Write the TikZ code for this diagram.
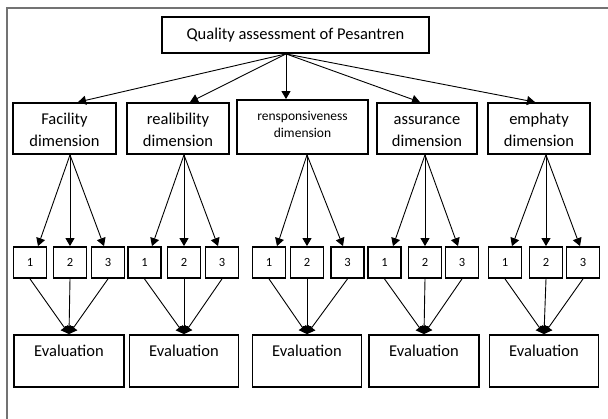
\documentclass[tikz,border=0pt]{standalone}
\usepackage{fontspec}
\setmainfont{Carlito}
\usetikzlibrary{arrows.meta}

\begin{document}
\begin{tikzpicture}[x=1pt,y=-1pt,
    topbox/.style={draw,line width=1.8pt,font=\fontsize{16.5}{22}\selectfont,minimum width=267pt,minimum height=36pt,inner sep=0pt},
    dimbox/.style={draw,line width=1.8pt,align=center,font=\fontsize{16.5}{22}\selectfont,inner xsep=0pt,inner ysep=0pt,text height=44pt,text depth=7pt},
    respbox/.style={draw,line width=1.8pt,align=center,font=\fontsize{13.5}{17}\selectfont,inner xsep=0pt,inner ysep=0pt,text height=38pt,text depth=16pt},
    itembox/.style={draw,line width=1.8pt,font=\fontsize{12.5}{14}\selectfont,minimum width=33pt,minimum height=31pt,inner sep=0pt},
    evalbox/.style={draw,line width=1.8pt,font=\fontsize{16.5}{22}\selectfont,minimum width=109pt,inner xsep=0pt,inner ysep=0pt,text height=22pt,text depth=30pt},
    arr/.style={-{Triangle[length=8pt,width=9pt]},line width=0.9pt}]
   \useasboundingbox (0,0) rectangle (608,419);
   \draw[black!55,line width=1.3pt] (7,419) -- (7,8) -- (608,8);
   % main box and dimensions
   \node[topbox] (quality) at (295.5,35) {Quality assessment of Pesantren};
   \node[dimbox,minimum width=103pt] (facility) at (64.5,128.5) {Facility\\dimension};
   \node[dimbox,minimum width=102pt] (reliab)   at (178,128.5)  {realibility\\dimension};
   \node[respbox,minimum width=131pt] (respon)  at (302.5,127)  {rensponsiveness\\dimension};
   \node[dimbox,minimum width=100pt] (assur)    at (427,128.5)  {assurance\\dimension};
   \node[dimbox,minimum width=102pt] (empat)    at (539,128.5)  {emphaty\\dimension};
   \coordinate (qs) at ([xshift=-9.5pt]quality.south);
   \draw[arr] (qs) -- ([xshift=13.5pt]facility.north);
   \draw[arr] (qs) -- ([xshift=12pt]reliab.north);
   \draw[arr] (qs) -- ([xshift=-16.5pt]respon.north);
   \draw[arr] (qs) -- ([xshift=-7pt]assur.north);
   \draw[arr] (qs) -- ([xshift=-4pt]empat.north);
   % indicators
   \node[itembox] (fac1) at (30,262.5)  {1};
   \node[itembox] (fac2) at (70,262.5)  {2};
   \node[itembox] (fac3) at (108,262.5) {3};
   \node[itembox] (rel1) at (144.5,262.5) {1};
   \node[itembox] (rel2) at (184,262.5)   {2};
   \node[itembox] (rel3) at (222,262.5)   {3};
   \node[itembox] (res1) at (269,262.5)   {1};
   \node[itembox] (res2) at (307,262.5)   {2};
   \node[itembox] (res3) at (347.5,262.5) {3};
   \node[itembox] (ass1) at (384.5,262.5) {1};
   \node[itembox] (ass2) at (425,262.5)   {2};
   \node[itembox] (ass3) at (462,262.5)   {3};
   \node[itembox] (emp1) at (505,262.5)   {1};
   \node[itembox] (emp2) at (546,262.5)   {2};
   \node[itembox] (emp3) at (583,262.5)   {3};
   \coordinate (fo) at ([xshift=5.5pt]facility.south);
   \coordinate (ro) at ([xshift=6pt]reliab.south);
   \coordinate (so) at ([xshift=4.5pt]respon.south);
   \coordinate (ao) at ([xshift=-2pt]assur.south);
   \coordinate (eo) at ([xshift=7pt]empat.south);
   \draw[arr] (fo) -- ([xshift=8pt]fac1.north);
   \draw[arr] (fo) -- (fac2.north);
   \draw[arr] (fo) -- ([xshift=-4pt]fac3.north);
   \draw[arr] (ro) -- ([xshift=7.5pt]rel1.north);
   \draw[arr] (ro) -- (rel2.north);
   \draw[arr] (ro) -- ([xshift=-4pt]rel3.north);
   \draw[arr] (so) -- ([xshift=8pt]res1.north);
   \draw[arr] (so) -- (res2.north);
   \draw[arr] (so) -- ([xshift=-4.5pt]res3.north);
   \draw[arr] (ao) -- ([xshift=8.5pt]ass1.north);
   \draw[arr] (ao) -- (ass2.north);
   \draw[arr] (ao) -- ([xshift=-4pt]ass3.north);
   \draw[arr] (eo) -- ([xshift=7pt]emp1.north);
   \draw[arr] (eo) -- (emp2.north);
   \draw[arr] (eo) -- ([xshift=-3pt]emp3.north);
   % evaluations
   \node[evalbox,minimum width=110pt] (facev) at (69,361) {Evaluation};
   \node[evalbox] (relev) at (184,361) {Evaluation};
   \node[evalbox] (resev) at (307,361) {Evaluation};
   \node[evalbox,minimum width=110pt] (assev) at (424,361) {Evaluation};
   \node[evalbox] (empev) at (544,361) {Evaluation};
   \draw[arr] (fac1.south) -- (facev.north);
   \draw[arr] (fac2.south) -- (facev.north);
   \draw[arr] (fac3.south) -- (facev.north);
   \draw[arr] (rel1.south) -- (relev.north);
   \draw[arr] (rel2.south) -- (relev.north);
   \draw[arr] (rel3.south) -- (relev.north);
   \draw[arr] (res1.south) -- (resev.north);
   \draw[arr] (res2.south) -- (resev.north);
   \draw[arr] (res3.south) -- (resev.north);
   \draw[arr] (ass1.south) -- (assev.north);
   \draw[arr] (ass2.south) -- (assev.north);
   \draw[arr] (ass3.south) -- (assev.north);
   \draw[arr] (emp1.south) -- (empev.north);
   \draw[arr] (emp2.south) -- (empev.north);
   \draw[arr] (emp3.south) -- (empev.north);
\end{tikzpicture}
\end{document}
